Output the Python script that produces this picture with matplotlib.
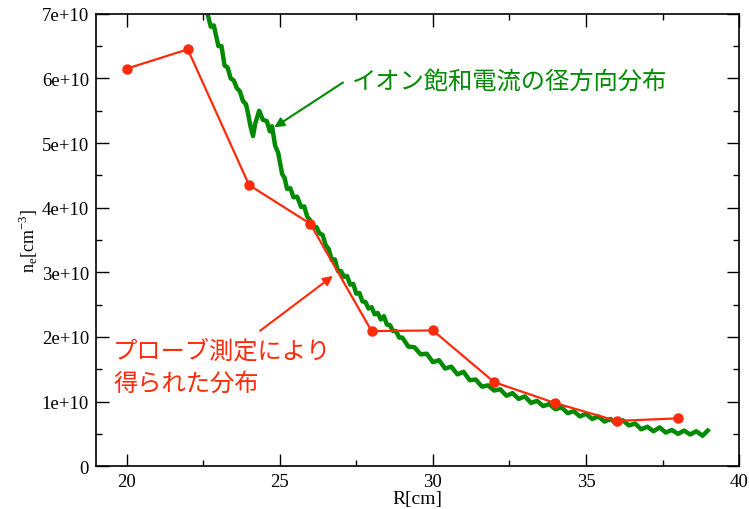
#=======================#
# Libraries importation #
#=======================#

import matplotlib
matplotlib.use("Agg")
import matplotlib.pyplot as plt
from matplotlib.ticker import MultipleLocator, FixedLocator, FixedFormatter

#==================#
# Global variables #
#==================#

RED = "#ff2a0a"
GREEN = "#008a00"
SERIF = ["Liberation Serif", "DejaVu Serif"]
JP = ["Noto Sans CJK JP", "DejaVu Sans"]

# Probe measurement (red)
probe_r = [20, 22, 24, 26, 28, 30, 32, 34, 36, 38]
probe_ne = [6.15e10, 6.45e10, 4.35e10, 3.75e10, 2.09e10, 2.10e10, 1.30e10, 0.975e10, 0.70e10, 0.74e10]

# Ion saturation current profile (green) (x in cm, y in 1e10 cm^-3)
ion_r = [22.63, 22.75, 22.85, 23.0, 23.1, 23.2, 23.3, 23.4, 23.5, 23.6, 23.7, 23.8, 23.9, 23.97,
         24.05, 24.13, 24.2, 24.33, 24.45, 24.58, 24.68, 24.75, 24.85, 24.95, 25.08, 25.16, 25.24,
         25.35, 25.45, 25.57, 25.7, 25.8, 25.9, 26.0, 26.1, 26.2, 26.3, 26.4, 26.5, 26.6, 26.7,
         26.8, 26.9, 27.0, 27.1, 27.2, 27.3, 27.4, 27.5, 27.6, 27.7, 27.8, 27.9, 28.0, 28.1, 28.2,
         28.3, 28.4, 28.5, 28.6, 28.7, 28.8, 28.9, 29.0, 29.2, 29.4, 29.6, 29.8, 30.0, 30.2, 30.4,
         30.6, 30.8, 31.0, 31.2, 31.4, 31.6, 31.8, 32.0, 32.2, 32.4, 32.6, 32.8, 33.0, 33.2, 33.4,
         33.6, 33.8, 34.0, 34.2, 34.4, 34.6, 34.8, 35.0, 35.2, 35.4, 35.6, 35.8, 36.0, 36.2, 36.4,
         36.6, 36.8, 37.0, 37.2, 37.4, 37.6, 37.8, 38.0, 38.2, 38.4, 38.6, 38.8, 38.97]
ion_ne = [7.03, 6.80, 6.82, 6.50, 6.50, 6.20, 6.17, 6.00, 5.97, 5.85, 5.80, 5.65, 5.60, 5.45,
          5.25, 5.11, 5.30, 5.50, 5.36, 5.34, 5.18, 5.26, 4.96, 4.85, 4.52, 4.46, 4.29,
          4.30, 4.16, 4.17, 4.01, 4.02, 3.86, 3.80, 3.70, 3.70, 3.60, 3.58, 3.42, 3.36, 3.19,
          3.20, 3.02, 3.02, 2.93, 2.94, 2.81, 2.82, 2.67, 2.68, 2.55, 2.54, 2.44, 2.46, 2.35, 2.37,
          2.27, 2.32, 2.19, 2.18, 2.09, 2.09, 1.99, 1.99, 1.85, 1.84, 1.73, 1.74, 1.61, 1.64, 1.51,
          1.54, 1.42, 1.46, 1.33, 1.34, 1.23, 1.25, 1.17, 1.19, 1.09, 1.13, 1.04, 1.08, 0.98, 1.01,
          0.93, 0.96, 0.88, 0.91, 0.82, 0.85, 0.77, 0.81, 0.73, 0.77, 0.69, 0.73, 0.65, 0.71, 0.63,
          0.66, 0.57, 0.61, 0.54, 0.60, 0.52, 0.56, 0.50, 0.55, 0.49, 0.54, 0.47, 0.55]

y_ticks = [0, 1e10, 2e10, 3e10, 4e10, 5e10, 6e10, 7e10]
y_labels = ["0", "1e+10", "2e+10", "3e+10", "4e+10", "5e+10", "6e+10", "7e+10"]
x_ticks = [20, 25, 30, 35, 40]

#==========#
# Plotting #
#==========#

fig = plt.figure(figsize=(7.49, 5.10), dpi=100)
ax = fig.add_axes([0.128, 0.084, 0.859, 0.887])

ax.plot(ion_r, [v * 1e10 for v in ion_ne], color=GREEN, linewidth=3.2, zorder=2)
ax.plot(probe_r, probe_ne, color=RED, linewidth=1.6, marker="o", markersize=6.5, zorder=3)

ax.set_xlim(19, 40)
ax.set_ylim(0, 7e10)

ax.xaxis.set_major_locator(FixedLocator(x_ticks))
ax.xaxis.set_minor_locator(MultipleLocator(2.5))
ax.yaxis.set_major_locator(FixedLocator(y_ticks))
ax.yaxis.set_major_formatter(FixedFormatter(y_labels))
ax.yaxis.set_minor_locator(MultipleLocator(0.5e10))

ax.tick_params(which="both", direction="in", top=True, right=True, width=1)
ax.tick_params(which="major", length=9, labelsize=13.5, pad=5)
ax.tick_params(which="minor", length=4.5)
for lab in ax.get_xticklabels() + ax.get_yticklabels():
    lab.set_family(SERIF)

for sp in ax.spines.values():
    sp.set_linewidth(1.2)

ax.set_xlabel("R[cm]", family=SERIF, fontsize=14, labelpad=0)
ax.set_ylabel(r"n$_\mathregular{e}$[cm$^\mathregular{-3}$]", family=SERIF, fontsize=13, labelpad=1)

# Annotations
ax.annotate("", xy=(24.75, 5.22e10), xytext=(27.14, 5.96e10),
            arrowprops=dict(arrowstyle="-|>", color=GREEN, lw=1.5, mutation_scale=14))
ax.text(27.37, 5.96e10, "イオン飽和電流の径方向分布", color=GREEN, family=JP,
        fontsize=17.5, va="center", ha="left")

ax.annotate("", xy=(26.81, 2.97e10), xytext=(24.29, 2.07e10),
            arrowprops=dict(arrowstyle="-|>", color=RED, lw=1.5, mutation_scale=14))
ax.text(19.56, 1.54e10, "プローブ測定により\n得られた分布", color=RED, family=JP,
        fontsize=17.5, va="center", ha="left", linespacing=1.3)

fig.savefig("out.png", dpi=100)
